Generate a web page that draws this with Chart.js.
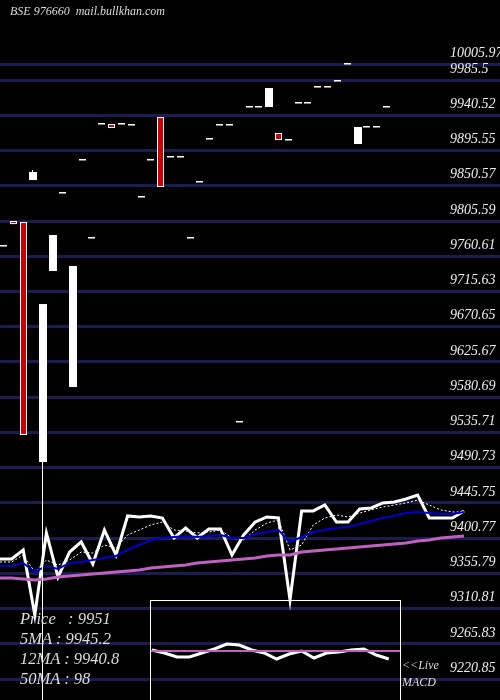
<!DOCTYPE html>
<html>
<head>
<meta charset="utf-8">
<script src="https://cdn.jsdelivr.net/npm/chart.js@4"></script>
<style>
  html, body { margin:0; padding:0; background:#000; }
  #wrap { position:relative; width:500px; height:700px; }
  #main { position:absolute; left:0; top:0; }
  #macdBox { position:absolute; left:150px; top:600px; width:249px; height:100px; border:1px solid #fff; border-bottom:none; }
  .txt { position:absolute; color:#ddd; font-family:"Liberation Serif",serif; font-style:italic; white-space:pre; }
</style>
</head>
<body>
<div id="wrap">
  <canvas id="main" width="500" height="700"></canvas>
  <div id="macdBox"><canvas id="macd" width="249" height="100"></canvas></div>
  <div class="txt" style="left:10px;top:4px;font-size:12px;">BSE 976660  mail.bullkhan.com</div>
  <div class="txt" style="left:20px;top:609px;font-size:16.5px;">Price   : 9951</div>
  <div class="txt" style="left:20px;top:629px;font-size:16.5px;">5MA : 9945.2</div>
  <div class="txt" style="left:20px;top:649px;font-size:16.5px;">12MA : 9940.8</div>
  <div class="txt" style="left:20px;top:669px;font-size:16.5px;">50MA : 98</div>
  <div class="txt" style="left:402px;top:658px;font-size:12px;">&lt;&lt;Live</div>
  <div class="txt" style="left:402px;top:675px;font-size:12px;">MACD</div>
</div>
<script>
// tick values (grid lines)
const tickVals = [10005.97, 9985.5, 9940.52, 9895.55, 9850.57, 9805.59, 9760.61, 9715.63, 9670.65,
  9625.67, 9580.69, 9535.71, 9490.73, 9445.75, 9400.77, 9355.79, 9310.81, 9265.83, 9220.85];

// candles
const opens  = [9773.7, 9805.6, 9804.3, 9857.9, 9498.0, 9741.8, 9841.3, 9593.7, 9883.5, 9783.9,
  9929.4, 9929.4, 9929.4, 9928.1, 9836.2, 9883.5, 9938.3, 9887.3, 9887.3, 9783.9,
  9855.4, 9910.2, 9928.1, 9928.1, 9549.1, 9951.1, 9951.1, 9951.1, 9917.9, 9909.0,
  9956.2, 9956.2, 9976.6, 9976.6, 9984.3, 10006.0, 9903.9, 9925.6, 9925.6, 9951.1];
const closes = [9773.7, 9801.7, 9532.5, 9868.1, 9699.6, 9787.7, 9841.3, 9748.2, 9883.5, 9783.9,
  9929.4, 9924.3, 9929.4, 9928.1, 9836.2, 9883.5, 9849.0, 9887.3, 9887.3, 9783.9,
  9855.4, 9910.2, 9928.1, 9928.1, 9549.1, 9951.1, 9951.1, 9975.3, 9909.0, 9909.0,
  9956.2, 9956.2, 9976.6, 9976.6, 9984.3, 10006.0, 9925.6, 9925.6, 9925.6, 9951.1];
const lows   = [9773.7, 9801.7, 9532.5, 9857.9, 9180.0, 9741.8, 9841.3, 9593.7, 9883.5, 9783.9,
  9929.4, 9924.3, 9929.4, 9928.1, 9836.2, 9883.5, 9849.0, 9887.3, 9887.3, 9783.9,
  9855.4, 9910.2, 9928.1, 9928.1, 9549.1, 9951.1, 9951.1, 9951.1, 9909.0, 9909.0,
  9956.2, 9956.2, 9976.6, 9976.6, 9984.3, 10006.0, 9903.9, 9925.6, 9925.6, 9951.1];
const highs  = [9773.7, 9805.6, 9804.3, 9870.7, 9699.6, 9787.7, 9841.3, 9748.2, 9883.5, 9783.9,
  9929.4, 9929.4, 9929.4, 9928.1, 9836.2, 9883.5, 9938.3, 9887.3, 9887.3, 9783.9,
  9855.4, 9910.2, 9928.1, 9928.1, 9549.1, 9951.1, 9951.1, 9975.3, 9917.9, 9909.0,
  9956.2, 9956.2, 9976.6, 9976.6, 9984.3, 10006.0, 9925.6, 9925.6, 9925.6, 9951.1];

// overlay lines (compressed view)
const priceLine = [9374.2, 9374.2, 9385.7, 9302.7, 9407.4, 9351.2, 9383.1, 9395.9, 9367.8, 9411.2,
  9379.3, 9429.1, 9427.8, 9429.1, 9426.5, 9401.0, 9413.8, 9401.0, 9412.5, 9412.5,
  9379.3, 9404.8, 9421.4, 9427.8, 9426.5, 9321.9, 9435.5, 9435.5, 9443.1, 9421.4,
  9421.4, 9438.0, 9439.3, 9445.7, 9447.0, 9450.8, 9455.9, 9426.5, 9426.5, 9426.5, 9435.5];
const ma5 = [9370.4, 9370.4, 9379.3, 9357.6, 9372.9, 9366.5, 9372.9, 9383.1, 9381.8, 9392.0,
  9388.2, 9404.8, 9411.2, 9417.6, 9421.4, 9411.2, 9409.9, 9407.4, 9408.6, 9411.2,
  9401.0, 9398.4, 9411.2, 9420.1, 9424.0, 9385.7, 9392.0, 9417.6, 9426.5, 9430.4,
  9427.8, 9432.9, 9436.8, 9440.6, 9443.1, 9445.7, 9449.5, 9443.1, 9436.8, 9434.2, 9434.2];
const ma12 = [9365.3, 9365.3, 9369.1, 9357.6, 9365.3, 9361.4, 9369.1, 9370.4, 9372.9, 9375.5,
  9378.0, 9385.7, 9392.0, 9398.4, 9401.0, 9402.3, 9403.5, 9402.3, 9403.5, 9404.8,
  9401.0, 9401.0, 9406.1, 9408.6, 9411.2, 9395.9, 9402.3, 9408.6, 9411.2, 9413.8,
  9415.0, 9418.9, 9422.7, 9426.5, 9429.1, 9432.9, 9434.2, 9432.9, 9431.6, 9431.6, 9434.2];
const ma50 = [9350.0, 9350.0, 9348.7, 9347.4, 9348.7, 9351.2, 9352.5, 9353.8, 9355.1, 9356.3,
  9357.6, 9358.9, 9360.2, 9362.7, 9364.0, 9365.3, 9366.6, 9369.1, 9370.4, 9371.7,
  9372.9, 9374.2, 9375.5, 9378.0, 9379.3, 9379.3, 9383.1, 9384.4, 9385.7, 9387.0,
  9388.3, 9389.5, 9390.8, 9392.1, 9393.4, 9394.6, 9397.2, 9398.4, 9401.0, 9402.3, 9403.5];

// macd inset
const macdVals = [1, -2, -6, -6, -2, 2, 7, 6, 1, -2, -8, -3, 0, -7, -2, -1, 1, 2, -4, -8];
const signalVals = [0, 0];

const idx = a => a.map((v, i) => ({x: i, y: v}));

const candlePlugin = {
  id: 'candles',
  afterDatasetsDraw(chart) {
    const c = chart.ctx, xs = chart.scales.x, ys = chart.scales.y;
    c.save();
    opens.forEach((o, i) => {
      const px = Math.round(xs.getPixelForValue(i));
      const yo = ys.getPixelForValue(o), yc = ys.getPixelForValue(closes[i]);
      const yh = ys.getPixelForValue(highs[i]), yl = ys.getPixelForValue(lows[i]);
      c.strokeStyle = '#fff'; c.lineWidth = 1;
      c.beginPath(); c.moveTo(px + 0.5, yh); c.lineTo(px + 0.5, yl); c.stroke();
      if (o === closes[i]) {
        c.fillStyle = '#fff'; c.fillRect(px - 3, yo - 1, 7, 1.5);
      } else if (closes[i] > o) {
        c.fillStyle = '#fff'; c.fillRect(px - 3, yc, 8, yo - yc);
      } else {
        c.fillStyle = '#fff'; c.fillRect(px - 3, yo, 7, yc - yo);
        c.fillStyle = '#cc0000'; c.fillRect(px - 2, yo + 1, 5, Math.max(yc - yo - 2, 1));
      }
    });
    // tick labels
    c.fillStyle = '#eee';
    c.font = 'italic 14px "Liberation Serif", serif';
    c.textBaseline = 'bottom';
    tickVals.forEach(v => c.fillText(String(v), 450, ys.getPixelForValue(v) - 4));
    c.restore();
  }
};

new Chart(document.getElementById('main'), {
  type: 'line',
  data: {
    datasets: [
      {data: idx(ma50), xAxisID: 'xl', borderColor: '#c060c0', borderWidth: 3},
      {data: idx(ma12), xAxisID: 'xl', borderColor: '#0000cc', borderWidth: 2},
      {data: idx(ma5), xAxisID: 'xl', borderColor: '#fff', borderWidth: 1, borderDash: [2, 2]},
      {data: idx(priceLine), xAxisID: 'xl', borderColor: '#fff', borderWidth: 3}
    ]
  },
  options: {
    responsive: false, animation: false,
    layout: {padding: 0},
    elements: {point: {radius: 0}, line: {tension: 0}},
    plugins: {legend: {display: false}, tooltip: {enabled: false}},
    scales: {
      x: {type: 'linear', min: -0.305, max: 50.6, display: false},
      xl: {type: 'linear', min: 0, max: 43.1, display: false},
      y: {
        min: 9194.2, max: 10087.7,
        afterBuildTicks: s => { s.ticks = tickVals.map(v => ({value: v})); },
        ticks: {display: false},
        border: {display: false},
        grid: {color: '#1c1c50', lineWidth: 3, drawTicks: false}
      }
    }
  },
  plugins: [candlePlugin]
});

new Chart(document.getElementById('macd'), {
  type: 'line',
  data: {
    datasets: [
      {data: idx(signalVals), xAxisID: 'xs', borderColor: '#c060c0', borderWidth: 2},
      {data: idx(macdVals), borderColor: '#fff', borderWidth: 3}
    ]
  },
  options: {
    responsive: false, animation: false,
    layout: {padding: 0},
    elements: {point: {radius: 0}, line: {tension: 0}},
    plugins: {legend: {display: false}, tooltip: {enabled: false}},
    scales: {
      x: {type: 'linear', min: -0.08, max: 19.9, display: false},
      xs: {type: 'linear', min: 0, max: 1, display: false},
      y: {min: -50, max: 50, display: false}
    }
  }
});
</script>
</body>
</html>
